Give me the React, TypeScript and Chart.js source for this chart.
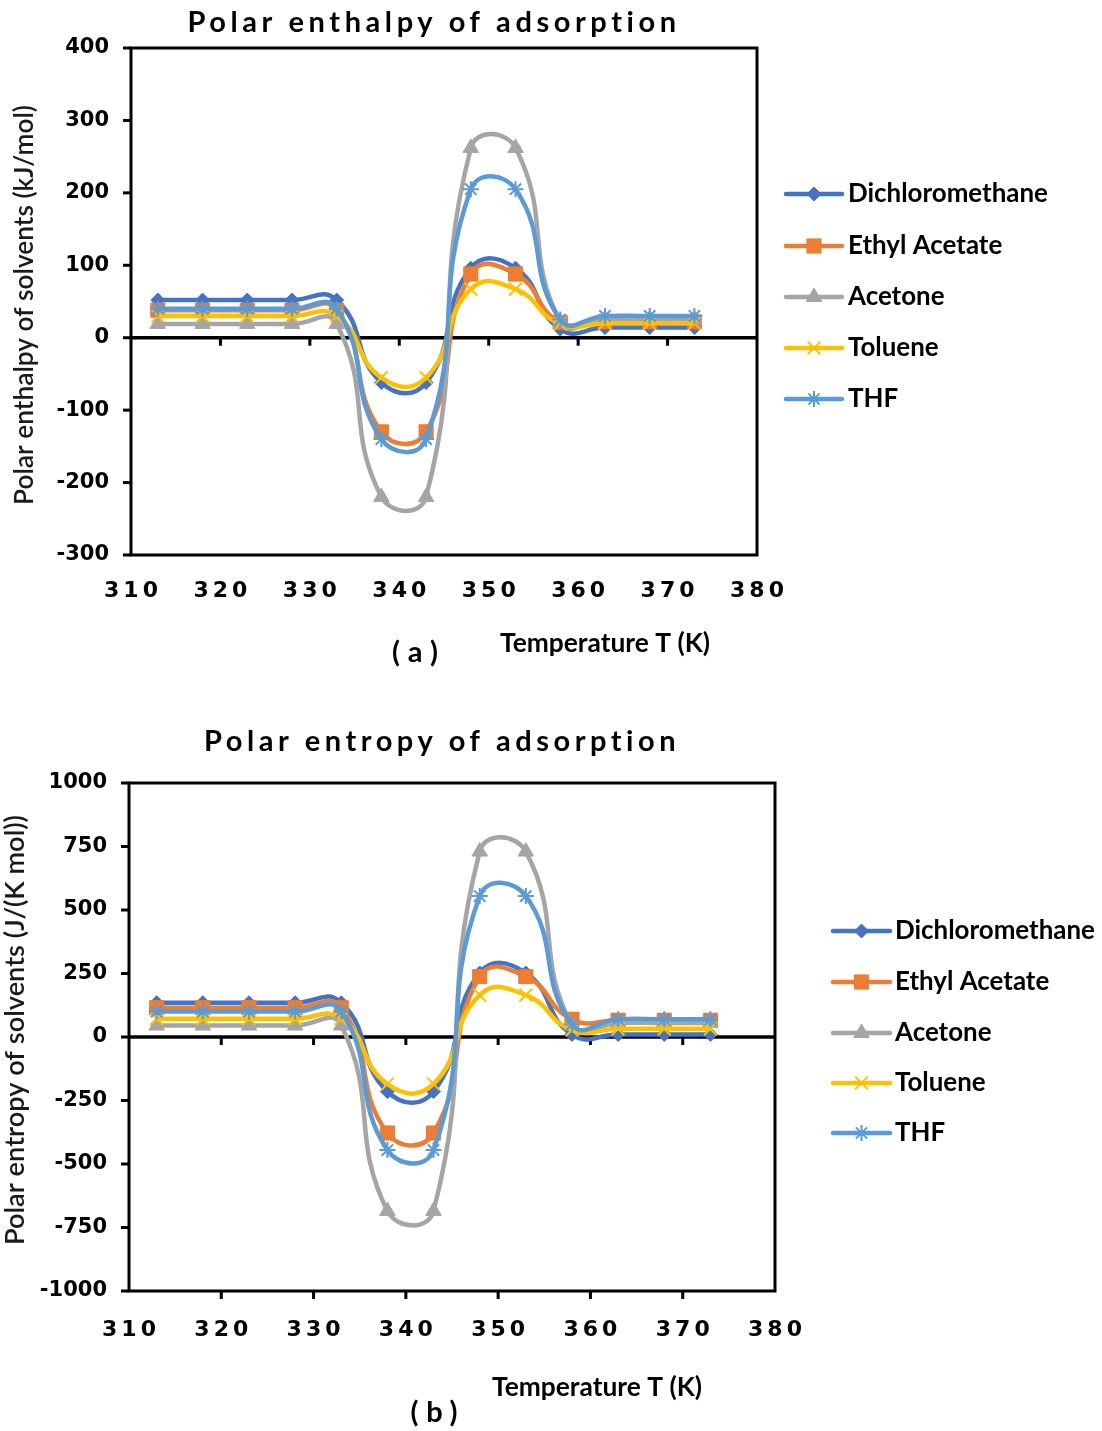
import React, { useEffect, useRef } from 'react';
import { Chart, registerables } from 'chart.js';
import { drawPoint } from 'chart.js/helpers';

Chart.register(...registerables);

// ---------------- data ----------------
const temperatures = [313, 318, 323, 328, 333, 338, 343, 348, 353, 358, 363, 368, 373];
const solventNames = ['Dichloromethane', 'Ethyl Acetate', 'Acetone', 'Toluene', 'THF'];

// Polar enthalpy of adsorption (kJ/mol)
const enthalpyDichloromethane = [52, 52, 52, 52, 52, -62, -62, 96, 96, 12, 14, 14, 14];
const enthalpyEthylAcetate = [38, 38, 38, 38, 38, -130, -130, 88, 88, 21, 22, 22, 22];
const enthalpyAcetone = [19, 19, 19, 19, 19, -220, -220, 262, 262, 22, 25, 25, 25];
const enthalpyToluene = [30, 30, 30, 30, 30, -55, -55, 67, 67, 19, 20, 20, 20];
const enthalpyTHF = [40, 40, 40, 40, 40, -140, -140, 205, 205, 25, 30, 30, 30];

// Polar entropy of adsorption (J/(K mol))
const entropyDichloromethane = [135, 135, 135, 135, 135, -215, -215, 252, 252, 10, 10, 10, 10];
const entropyEthylAcetate = [115, 115, 115, 115, 115, -378, -378, 238, 238, 70, 66, 66, 66];
const entropyAcetone = [45, 45, 45, 45, 45, -685, -685, 730, 730, 45, 55, 55, 55];
const entropyToluene = [72, 72, 72, 72, 72, -185, -185, 165, 165, 28, 32, 32, 32];
const entropyTHF = [100, 100, 100, 100, 100, -445, -445, 555, 555, 50, 70, 70, 70];

// axis ranges / ticks
const xAxisRange = [310, 380, 10];
const enthalpyAxisRange = [-300, 400, 100];
const entropyAxisRange = [-1000, 1000, 250];

// ---------------- styles ----------------
const seriesColors = ['#4472C4', '#ED7D31', '#A5A5A5', '#FFC000', '#5B9BD5'];
const seriesPointStyles = ['rectRot', 'rect', 'triangle', 'crossRot', 'star'];
const seriesPointRadius = [7, 10, 9, 9, 8];
const seriesPointBorder = [1, 1, 1, 2, 2];
const seriesOrder = [5, 4, 3, 2, 1];

type Layout = {
  top: number;
  height: number;
  area: { left: number; top: number; right: number; bottom: number };
  title: { cx: number; cy: number; w: number };
  xLabelY: number;
  xTitle: { cx: number; cy: number; w: number };
  panel: { cx: number; cy: number; w: number };
  yTitle: { cx: number; cy: number; len: number };
  legend: { x1: number; x2: number; tx: number; rows: number[]; w: number };
  bottomTicks: boolean;
};

const W = 1102;

const layoutA: Layout = {
  top: 0,
  height: 700,
  area: { left: 131, top: 48, right: 757, bottom: 555 },
  title: { cx: 432, cy: 23, w: 489 },
  xLabelY: 591,
  xTitle: { cx: 605, cy: 643, w: 210 },
  panel: { cx: 415, cy: 653, w: 46 },
  yTitle: { cx: 25, cy: 305, len: 400 },
  legend: { x1: 786, x2: 842, tx: 848, rows: [194, 246, 297, 348, 399], w: 200 },
  bottomTicks: false,
};

const layoutB: Layout = {
  top: 700,
  height: 731,
  area: { left: 129, top: 83, right: 775, bottom: 591 },
  title: { cx: 440, cy: 42, w: 472 },
  xLabelY: 630,
  xTitle: { cx: 597, cy: 687, w: 210 },
  panel: { cx: 434, cy: 713, w: 47 },
  yTitle: { cx: 15, cy: 330, len: 430 },
  legend: { x1: 833, x2: 890, tx: 895, rows: [231, 282, 333, 383, 433], w: 200 },
  bottomTicks: true,
};

function spacedText(ctx: any, text: string, cx: number, cy: number, font: string, width: number, color = '#000') {
  ctx.save();
  ctx.font = font;
  ctx.letterSpacing = '0px';
  const w0 = ctx.measureText(text).width;
  const n = text.length;
  const sp = n > 1 ? (width - w0) / (n - 1) : 0;
  ctx.letterSpacing = sp + 'px';
  ctx.fillStyle = color;
  ctx.textAlign = 'left';
  ctx.textBaseline = 'middle';
  ctx.fillText(text, cx - width / 2, cy);
  ctx.restore();
}

function fitFont(ctx: any, text: string, family: string, weight: string, target: number) {
  ctx.save();
  ctx.letterSpacing = '0px';
  ctx.font = `${weight} 20px ${family}`;
  const w = ctx.measureText(text).width;
  ctx.restore();
  return (20 * target) / w;
}

function line(ctx: any, x1: number, y1: number, x2: number, y2: number) {
  ctx.beginPath();
  ctx.moveTo(x1, y1);
  ctx.lineTo(x2, y2);
  ctx.stroke();
}

function makePlugin(L: Layout, title: string, yTitle: string, panel: string) {
  return {
    id: 'excelFrame',
    beforeDatasetsDraw(chart: any) {
      const { ctx, chartArea: a, scales } = chart;
      const xs = scales.x;
      const ys = scales.y;
      ctx.save();
      ctx.strokeStyle = '#000';
      ctx.lineWidth = 3;
      ctx.lineCap = 'butt';
      ctx.strokeRect(a.left, a.top, a.right - a.left, a.bottom - a.top);
      ys.ticks.forEach((t: any) => {
        const py = ys.getPixelForValue(t.value);
        line(ctx, a.left - 8, py, a.left, py);
      });
      const y0 = ys.getPixelForValue(0);
      ctx.lineWidth = 3.5;
      line(ctx, a.left, y0, a.right, y0);
      ctx.lineWidth = 3;
      xs.ticks.forEach((t: any) => {
        if (t.value > xs.min && t.value < xs.max) {
          const px = xs.getPixelForValue(t.value);
          line(ctx, px, y0, px, y0 + 8);
          if (L.bottomTicks) line(ctx, px, a.bottom, px, a.bottom + 8);
        }
      });
      ctx.restore();
    },
    afterDraw(chart: any) {
      const { ctx, scales, chartArea: a } = chart;
      const xs = scales.x;
      const ys = scales.y;
      // title
      spacedText(ctx, title, L.title.cx, L.title.cy, 'bold 29px Lato', L.title.w);
      // y tick labels
      ctx.save();
      ctx.letterSpacing = '0px';
      ctx.font = 'bold 21px "DejaVu Sans"';
      ctx.fillStyle = '#000';
      ctx.textAlign = 'right';
      ctx.textBaseline = 'middle';
      ys.ticks.forEach((t: any) => {
        ctx.fillText(String(t.value), a.left - 22, ys.getPixelForValue(t.value));
      });
      ctx.restore();
      // x tick labels
      xs.ticks.forEach((t: any) => {
        const px = xs.getPixelForValue(t.value);
        spacedText(ctx, String(t.value), px, L.xLabelY, 'bold 22px "DejaVu Sans"', 54);
      });
      // x title
      const xtSize = fitFont(ctx, 'Temperature T (K)', 'Lato', 'bold', L.xTitle.w);
      ctx.save();
      ctx.letterSpacing = '0px';
      ctx.font = `bold ${xtSize}px Lato`;
      ctx.fillStyle = '#000';
      ctx.textAlign = 'center';
      ctx.textBaseline = 'middle';
      ctx.fillText('Temperature T (K)', L.xTitle.cx, L.xTitle.cy);
      ctx.restore();
      // panel label
      spacedText(ctx, panel, L.panel.cx, L.panel.cy, 'bold 29px Lato', L.panel.w);
      // y title
      const ytSize = fitFont(ctx, yTitle, 'Lato', '600', L.yTitle.len);
      ctx.save();
      ctx.letterSpacing = '0px';
      ctx.translate(L.yTitle.cx, L.yTitle.cy);
      ctx.rotate(-Math.PI / 2);
      ctx.font = `600 ${ytSize}px Lato`;
      ctx.fillStyle = '#1a1a1a';
      ctx.textAlign = 'center';
      ctx.textBaseline = 'middle';
      ctx.fillText(yTitle, 0, 0);
      ctx.restore();
      // legend
      const lgSize = fitFont(ctx, solventNames[0], 'Lato', 'bold', L.legend.w);
      chart.data.datasets.forEach((ds: any, i: number) => {
        const yy = L.legend.rows[i];
        ctx.save();
        ctx.letterSpacing = '0px';
        ctx.strokeStyle = ds.borderColor;
        ctx.lineWidth = 4.5;
        ctx.lineCap = 'round';
        line(ctx, L.legend.x1, yy, L.legend.x2, yy);
        ctx.lineCap = 'butt';
        ctx.fillStyle = ds.pointBackgroundColor;
        ctx.strokeStyle = ds.pointBorderColor;
        ctx.lineWidth = ds.pointBorderWidth;
        drawPoint(ctx, {
          pointStyle: ds.pointStyle,
          rotation: 0,
          radius: ds.pointRadius,
          borderWidth: ds.pointBorderWidth,
        } as any, (L.legend.x1 + L.legend.x2) / 2, yy);
        ctx.font = `bold ${lgSize}px Lato`;
        ctx.fillStyle = '#000';
        ctx.textAlign = 'left';
        ctx.textBaseline = 'middle';
        ctx.fillText(ds.label, L.legend.tx, yy);
        ctx.restore();
      });
    },
  };
}

function Panel(props: { layout: Layout; series: number[][]; range: number[]; title: string; yTitle: string; panel: string }) {
  const ref = useRef<HTMLCanvasElement>(null);
  useEffect(() => {
    const L = props.layout;
    const datasets = props.series.map((vals, i) => ({
      label: solventNames[i],
      data: temperatures.map((t, j) => ({ x: t, y: vals[j] })),
      borderColor: seriesColors[i],
      backgroundColor: seriesColors[i],
      pointBackgroundColor: seriesColors[i],
      pointBorderColor: seriesColors[i],
      pointStyle: seriesPointStyles[i],
      pointRadius: seriesPointRadius[i],
      pointBorderWidth: seriesPointBorder[i],
      borderWidth: 4.5,
      tension: 0.5,
      fill: false,
      order: seriesOrder[i],
    }));
    const chart = new Chart(ref.current as HTMLCanvasElement, {
      type: 'line',
      data: { datasets },
      options: {
        animation: false,
        responsive: false,
        devicePixelRatio: 1,
        layout: {
          padding: {
            left: L.area.left,
            top: L.area.top,
            right: W - L.area.right,
            bottom: L.height - L.area.bottom,
          },
        },
        plugins: { legend: { display: false }, tooltip: { enabled: false }, title: { display: false } },
        scales: {
          x: {
            type: 'linear',
            min: xAxisRange[0],
            max: xAxisRange[1],
            ticks: { display: false, stepSize: xAxisRange[2] },
            grid: { display: false, drawTicks: false },
            border: { display: false },
            afterFit: (s: any) => { s.height = 0; },
          },
          y: {
            type: 'linear',
            min: props.range[0],
            max: props.range[1],
            ticks: { display: false, stepSize: props.range[2] },
            grid: { display: false, drawTicks: false },
            border: { display: false },
            afterFit: (s: any) => { s.width = 0; },
          },
        },
      } as any,
      plugins: [makePlugin(L, props.title, props.yTitle, props.panel)],
    });
    return () => chart.destroy();
  }, []);
  const L = props.layout;
  return (
    <canvas
      ref={ref}
      width={W}
      height={L.height}
      style={{ position: 'absolute', left: 0, top: L.top, width: W, height: L.height }}
    />
  );
}

export default function App() {
  useEffect(() => {
    document.body.style.margin = '0';
    document.body.style.background = '#fff';
  }, []);
  return (
    <div style={{ position: 'relative', width: W, height: 1431, background: '#fff' }}>
      <Panel
        layout={layoutA}
        series={[enthalpyDichloromethane, enthalpyEthylAcetate, enthalpyAcetone, enthalpyToluene, enthalpyTHF]}
        range={enthalpyAxisRange}
        title="Polar enthalpy of adsorption"
        yTitle="Polar enthalpy of solvents (kJ/mol)"
        panel="(a)"
      />
      <Panel
        layout={layoutB}
        series={[entropyDichloromethane, entropyEthylAcetate, entropyAcetone, entropyToluene, entropyTHF]}
        range={entropyAxisRange}
        title="Polar entropy of adsorption"
        yTitle="Polar entropy of solvents (J/(K mol))"
        panel="(b)"
      />
    </div>
  );
}
